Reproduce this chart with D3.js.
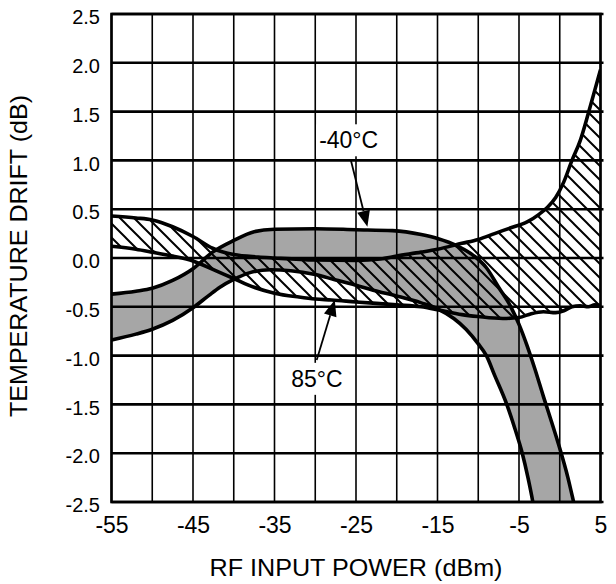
<!DOCTYPE html>
<html><head><meta charset="utf-8">
<script src="https://cdn.jsdelivr.net/npm/d3@7"></script>
<style>body{margin:0;background:#fff}svg{display:block}</style>
</head><body>
<svg id="c" width="616" height="584"></svg>
<script>
// ---- data (dBm, dB) ----
const xTickValues = [-55, -45, -35, -25, -15, -5, 5];
const xGridValues = [-55, -50, -45, -40, -35, -30, -25, -20, -15, -10, -5, 0, 5];
const yTickValues = [2.5, 2.0, 1.5, 1.0, 0.5, 0.0, -0.5, -1.0, -1.5, -2.0, -2.5];

// -40°C band (gray)
const coldUpper = [[-55,-0.37],[-52,-0.34],[-50,-0.31],[-47.5,-0.23],[-45,-0.11],[-42.6,0.06],[-40,0.18],[-37.5,0.27],[-35,0.295],[-30,0.3],[-25,0.29],[-20.5,0.28],[-17,0.24],[-15,0.2],[-12.5,0.12],[-10.5,0.02],[-9,-0.1],[-7.5,-0.3],[-6,-0.5],[-5,-0.68],[-4,-0.9],[-3,-1.15],[-2,-1.42],[-1,-1.68],[0,-1.95],[1,-2.25],[1.7,-2.5],[2.3,-2.72]];
const coldLower = [[-55,-0.84],[-52,-0.78],[-50,-0.73],[-47.5,-0.64],[-45,-0.51],[-43,-0.38],[-41.7,-0.3],[-40,-0.22],[-38,-0.15],[-35.5,-0.12],[-33,-0.13],[-30,-0.17],[-27.7,-0.22],[-25,-0.28],[-22.9,-0.33],[-20,-0.39],[-17,-0.46],[-15,-0.52],[-13,-0.62],[-11.5,-0.73],[-10,-0.88],[-9,-1.0],[-8,-1.2],[-6.5,-1.5],[-5.5,-1.75],[-4.6,-2.0],[-3.9,-2.25],[-3.3,-2.5],[-2.8,-2.75]];
// 85°C band (hatched)
const hotUpper = [[-55,0.43],[-52,0.41],[-50,0.39],[-47.5,0.32],[-45,0.22],[-42.6,0.1],[-40,0.035],[-37,0.01],[-35,0.0],[-30,-0.02],[-25,-0.025],[-22,-0.01],[-20,0.02],[-17,0.06],[-15,0.09],[-12,0.15],[-10,0.19],[-8,0.25],[-6,0.31],[-4,0.37],[-2.5,0.45],[-1.5,0.52],[-0.5,0.62],[0.5,0.78],[1.5,1.0],[2.5,1.2],[3.5,1.48],[4.3,1.72],[5,1.93]];
const hotLower = [[-55,0.12],[-52,0.09],[-50,0.06],[-47.5,0.02],[-45,-0.03],[-42.5,-0.12],[-40,-0.21],[-37.5,-0.3],[-35,-0.36],[-32,-0.4],[-30,-0.42],[-28,-0.43],[-25,-0.45],[-20,-0.48],[-17,-0.5],[-15,-0.53],[-12,-0.58],[-10,-0.6],[-7,-0.62],[-5,-0.61],[-3.5,-0.57],[-2,-0.55],[-0.5,-0.56],[0.5,-0.54],[1.5,-0.5],[2.5,-0.49],[3.5,-0.5],[4.3,-0.48],[5,-0.49]];

// annotations: label center x, baseline y, arrow start, arrow tip (data units)
const labels = [
  {text: "-40°C", x: -25.9, y: 1.124, from: [-25.65, 1.01], to: [-23.6, 0.32]},
  {text: "85°C",  x: -29.8, y: -1.32, from: [-29.82, -1.045], to: [-27.6, -0.43]}
];

// ---- drawing ----
const svg = d3.select("#c");
const x = d3.scaleLinear().domain([-55, 5]).range([111.5, 600.5]);
const y = d3.scaleLinear().domain([2.5, -2.5]).range([14, 502]);
const font = "'Liberation Sans', Arial, sans-serif";

const defs = svg.append("defs");
defs.append("clipPath").attr("id", "plotclip").append("rect")
  .attr("x", x(-55)).attr("y", y(2.5)).attr("width", x(5) - x(-55)).attr("height", y(-2.5) - y(2.5));
const pat = defs.append("pattern").attr("id", "hatch").attr("patternUnits", "userSpaceOnUse")
  .attr("width", 14).attr("height", 14);
pat.append("path").attr("d", "M-3,-3L17,17M-3,11L3,17M11,-3L17,3")
  .attr("stroke", "#000").attr("stroke-width", 2);

const line = d3.line().x(d => x(d[0])).y(d => y(d[1])).curve(d3.curveMonotoneX);
function band(upper, lower) {
  return line(upper) + line(lower.slice().reverse()).replace(/^M/, "L") + "Z";
}

const plot = svg.append("g").attr("clip-path", "url(#plotclip)");
plot.append("path").attr("d", band(coldUpper, coldLower)).attr("fill", "#a6a6a6");
plot.append("path").attr("d", band(hotUpper, hotLower)).attr("fill", "url(#hatch)");

// grid
const grid = svg.append("g");
grid.selectAll("line.v").data(xGridValues).join("line")
  .attr("x1", d => x(d)).attr("x2", d => x(d)).attr("y1", y(2.5)).attr("y2", y(-2.5))
  .attr("stroke", "#000").attr("stroke-width", 1.6);
grid.selectAll("line.h").data(yTickValues).join("line")
  .attr("x1", x(-55)).attr("x2", x(5) + 3).attr("y1", d => y(d)).attr("y2", d => y(d))
  .attr("stroke", "#000").attr("stroke-width", 2.6);

// curves
[coldUpper, coldLower, hotUpper, hotLower].forEach(s => {
  plot.append("path").attr("d", line(s)).attr("fill", "none")
    .attr("stroke", "#000").attr("stroke-width", 3.6).attr("stroke-linejoin", "round");
});

// border
svg.append("rect").attr("x", x(-55)).attr("y", y(2.5))
  .attr("width", x(5) - x(-55)).attr("height", y(-2.5) - y(2.5))
  .attr("fill", "none").attr("stroke", "#000").attr("stroke-width", 2.6);

// annotations
labels.forEach(l => {
  const g = svg.append("g");
  const t = g.append("text").attr("x", x(l.x)).attr("y", y(l.y)).attr("text-anchor", "middle")
    .attr("font-family", font).attr("font-size", 23).text(l.text);
  const bb = t.node().getBBox();
  g.insert("rect", "text").attr("x", bb.x - 3).attr("y", bb.y - 3)
    .attr("width", bb.width + 6).attr("height", bb.height + 6).attr("fill", "#fff");
  const x0 = x(l.from[0]), y0 = y(l.from[1]), x1 = x(l.to[0]), y1 = y(l.to[1]);
  const ang = Math.atan2(y1 - y0, x1 - x0), hl = 16, hw = 6.5;
  const bx = x1 - hl * Math.cos(ang), by = y1 - hl * Math.sin(ang);
  g.append("line").attr("x1", x0).attr("y1", y0).attr("x2", bx).attr("y2", by)
    .attr("stroke", "#000").attr("stroke-width", 1.8);
  g.append("path").attr("d", `M${x1},${y1}L${bx - hw * Math.sin(ang)},${by + hw * Math.cos(ang)}L${bx + hw * Math.sin(ang)},${by - hw * Math.cos(ang)}Z`)
    .attr("fill", "#000");
});

// axes
const xAxis = d3.axisBottom(x).tickValues(xTickValues).tickSize(0).tickPadding(0).tickFormat(d => String(d));
const gx = svg.append("g").attr("transform", `translate(0,${y(-2.5)})`).call(xAxis);
gx.select(".domain").remove();
gx.selectAll("text").attr("font-family", font).attr("font-size", 23).attr("fill", "#000")
  .attr("dy", null).attr("y", 31);

const yAxis = d3.axisLeft(y).tickValues(yTickValues).tickSize(0).tickPadding(0).tickFormat(d => d.toFixed(1));
const gy = svg.append("g").attr("transform", `translate(100,0)`).call(yAxis);
gy.select(".domain").remove();
gy.selectAll("text").attr("font-family", font).attr("font-size", 20).attr("fill", "#000")
  .attr("x", 0).attr("dy", "0.48em");

svg.append("text").attr("x", (x(-55) + x(5)) / 2).attr("y", 576).attr("text-anchor", "middle")
  .attr("font-family", font).attr("font-size", 24).attr("textLength", 293).attr("lengthAdjust", "spacingAndGlyphs")
  .text("RF INPUT POWER (dBm)");
svg.append("text").attr("transform", "translate(27,256) rotate(-90)").attr("text-anchor", "middle")
  .attr("font-family", font).attr("font-size", 24).attr("textLength", 322).attr("lengthAdjust", "spacingAndGlyphs")
  .text("TEMPERATURE DRIFT (dB)");
</script>
</body></html>
